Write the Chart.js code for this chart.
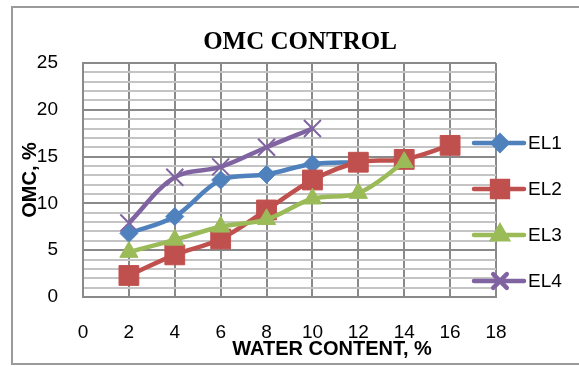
<!DOCTYPE html>
<html>
<head>
<meta charset="utf-8">
<script src="https://cdn.jsdelivr.net/npm/chart.js@4/dist/chart.umd.min.js"></script>
<style>
  body { margin: 0; background: #fff; }
  canvas { display: block; }
</style>
</head>
<body>
<canvas id="omcChart" width="579" height="367"></canvas>
<script>
// water content (%) for each reading
const waterContent = [2, 4, 6, 8, 10, 12, 14, 16];
// OMC (%) per soil sample
const el1 = [6.8, 8.6, 12.5, 13.1, 14.2, 14.4];
const el2 = [2.3, 4.5, 6.2, 9.3, 12.5, 14.4, 14.7, 16.2];
const el3 = [4.8, 6.1, 7.5, 8.3, 10.5, 11.1, 14.4];
const el4 = [7.9, 12.8, 13.9, 16.0, 18.0];
const xTicks = [0, 2, 4, 6, 8, 10, 12, 14, 16, 18];
const yTicks = [0, 5, 10, 15, 20, 25];

const toPoints = vals => vals.map((v, i) => ({ x: waterContent[i], y: v }));

const series = [
  { label: 'EL1', data: el1, color: '#4F81BD', style: 'rectRot', radius: 9, order: 2 },
  { label: 'EL2', data: el2, color: '#C0504D', style: 'rect', radius: 14, order: 1 },
  { label: 'EL3', data: el3, color: '#9BBB59', style: 'triangle', radius: 10.5, order: 0 },
  { label: 'EL4', data: el4, color: '#8064A2', style: 'crossRot', radius: 12, order: 3 }
];

// frame, title, axis titles and the legend on the right
const decorations = {
  id: 'decorations',
  beforeDraw(chart) {
    const ctx = chart.ctx;
    ctx.save();
    ctx.fillStyle = '#fff';
    ctx.fillRect(0, 0, chart.width, chart.height);
    ctx.strokeStyle = '#9a9a9a';
    ctx.lineWidth = 2;
    ctx.strokeRect(12, 7, 580, 357);
    ctx.restore();
  },
  afterDraw(chart) {
    const ctx = chart.ctx;
    const area = chart.chartArea;
    ctx.save();
    ctx.fillStyle = '#000';
    ctx.textAlign = 'center';
    ctx.textBaseline = 'alphabetic';
    ctx.font = 'bold 25px "Liberation Serif", "Times New Roman", serif';
    ctx.fillText('OMC CONTROL', 300, 49);

    ctx.font = 'bold 20px "Liberation Sans", Arial, sans-serif';
    ctx.textBaseline = 'middle';
    ctx.fillText('WATER CONTENT, %', 332, 349);

    ctx.save();
    ctx.translate(30, (area.top + area.bottom) / 2);
    ctx.rotate(-Math.PI / 2);
    ctx.fillText('OMC, %', 0, 0);
    ctx.restore();

    // legend
    ctx.textAlign = 'left';
    ctx.font = '19px "Liberation Sans", Arial, sans-serif';
    chart.data.datasets.forEach((ds, i) => {
      const y = 143 + i * 46;
      ctx.strokeStyle = ds.borderColor;
      ctx.lineWidth = 4.5;
      ctx.lineCap = 'round';
      ctx.beginPath();
      ctx.moveTo(474, y);
      ctx.lineTo(524, y);
      ctx.stroke();
      ctx.fillStyle = ds.pointBackgroundColor;
      ctx.strokeStyle = ds.pointBorderColor;
      Chart.helpers.drawPoint(ctx, {
        pointStyle: ds.pointStyle,
        radius: ds.pointRadius * 0.8,
        rotation: 0,
        borderWidth: ds.pointStyle === 'crossRot' ? 2 : 1
      }, 500, y);
      ctx.fillStyle = '#000';
      ctx.fillText(ds.label, 528, y + 1);
    });
    ctx.restore();
  }
};

new Chart(document.getElementById('omcChart'), {
  type: 'line',
  data: {
    datasets: series.map(s => ({
      label: s.label,
      data: toPoints(s.data),
      borderColor: s.color,
      backgroundColor: s.color,
      pointBackgroundColor: s.color,
      pointBorderColor: s.color,
      pointStyle: s.style,
      pointRadius: s.radius,
      pointHoverRadius: s.radius,
      pointBorderWidth: s.style === 'crossRot' ? 2 : 1,
      borderWidth: 4.5,
      tension: 0.35,
      fill: false,
      order: s.order
    }))
  },
  options: {
    responsive: false,
    animation: false,
    layout: { padding: { left: 0, top: 63, right: 83, bottom: 0 } },
    plugins: { legend: { display: false }, title: { display: false }, tooltip: { enabled: false } },
    scales: {
      x: {
        type: 'linear',
        min: 0,
        max: 18,
        afterFit: scale => { scale.height = 70; },
        afterBuildTicks: scale => { scale.ticks = xTicks.map(v => ({ value: v })); },
        ticks: {
          autoSkip: false,
          padding: 24,
          color: '#000',
          font: { family: '"Liberation Sans", Arial, sans-serif', size: 19 }
        },
        grid: { color: '#8a8a8a', lineWidth: 2, drawTicks: false },
        border: { color: '#8a8a8a', width: 2 }
      },
      y: {
        min: 0,
        max: 25,
        afterFit: scale => { scale.width = 83; },
        ticks: {
          stepSize: 1,
          autoSkip: false,
          padding: 25,
          color: '#000',
          font: { family: '"Liberation Sans", Arial, sans-serif', size: 19 },
          callback: v => yTicks.includes(v) ? String(v) : ''
        },
        grid: {
          drawTicks: false,
          color: c => c.tick.value % 5 === 0 ? '#8a8a8a' : '#c4c4c4',
          lineWidth: 2
        },
        border: { color: '#8a8a8a', width: 2 }
      }
    }
  },
  plugins: [decorations]
});
</script>
</body>
</html>
